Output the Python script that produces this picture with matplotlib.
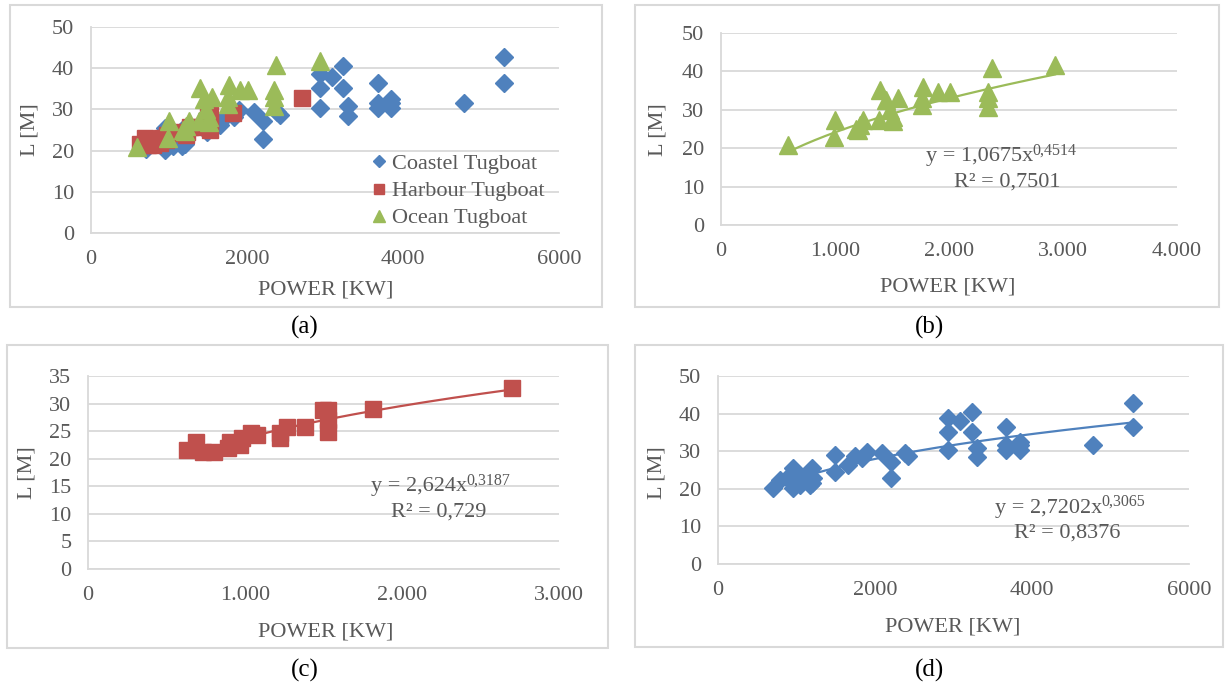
import numpy as np
import matplotlib.pyplot as plt
from matplotlib.patches import Rectangle

plt.rcParams['font.family'] = ['Liberation Serif', 'DejaVu Serif']

# data (power in kW, length in m)
coastal_kw = [700, 790, 875, 955, 955, 960, 1045, 1085, 1170, 1195,
              1200, 1215, 1490, 1490, 1660, 1745, 1830, 1895, 2085, 2210,
              2210, 2380, 2425, 2935, 2935, 2935, 3085, 3230, 3230, 3295,
              3295, 3675, 3675, 3675, 3845, 3845, 3845, 4780, 5290, 5290]
coastal_l = [20.3, 22.4, 22.8, 25.5, 20.2, 24.1, 21.0, 23.1, 21.0, 25.5,
             21.5, 22.8, 29.0, 24.6, 26.3, 28.6, 28.1, 29.9, 29.4, 27.2,
             22.8, 29.4, 28.6, 38.7, 35.2, 30.3, 37.9, 40.5, 35.2, 30.8,
             28.5, 36.5, 31.6, 30.3, 32.5, 31.6, 30.3, 31.6, 42.7, 36.5]

harbour_kw = [630, 690, 735, 800, 890, 905, 965, 980, 1040, 1075,
              1220, 1225, 1265, 1380, 1495, 1530, 1530, 1530, 1815, 2700]
harbour_l = [21.6, 23.1, 21.3, 21.3, 21.9, 23.1, 22.5, 23.7, 24.6, 24.3,
             23.7, 24.6, 25.8, 25.8, 28.8, 28.8, 27.0, 24.9, 29.1, 32.8]

ocean_kw = [590, 990, 1000, 1180, 1205, 1220, 1250, 1390, 1395, 1450,
            1480, 1510, 1510, 1555, 1760, 1760, 1775, 1905, 2010, 2345,
            2345, 2345, 2375, 2930]
ocean_l = [20.8, 23.0, 27.3, 25.0, 24.7, 26.0, 27.3, 27.3, 35.2, 32.5,
           30.0, 28.2, 27.0, 33.0, 33.0, 31.2, 36.0, 34.7, 34.7, 34.7,
           33.0, 30.8, 40.8, 41.7]

# power-law trendlines y = a * x^b as printed on the chart
fit_ocean = (1.0675, 0.4514)
fit_harbour = (2.624, 0.3187)
fit_coastal = (2.7202, 0.3065)

ticks_6000 = ['0', '2000', '4000', '6000']
ticks_4000 = ['0', '1.000', '2.000', '3.000', '4.000']
ticks_3000 = ['0', '1.000', '2.000', '3.000']

BLUE = '#4f81bd'
RED = '#c0504d'
GREEN = '#9bbb59'
GRID = '#d9d9d9'
TXT = '#595959'
FS = 16

W, H = 1225, 687
fig = plt.figure(figsize=(W / 100, H / 100), dpi=100)


def fx(px):
    return px / W


def fy(py):
    return 1 - py / H


def box(x0, y0, x1, y1):
    fig.add_artist(Rectangle((fx(x0), fy(y1)), (x1 - x0) / W, (y1 - y0) / H,
                             transform=fig.transFigure, fill=False,
                             ec=GRID, lw=1.5))


def make_ax(l, r, t, b, xmax, xlabels, ymax, ystep):
    ax = fig.add_axes([fx(l), fy(b), (r - l) / W, (b - t) / H])
    ax.set_xlim(0, xmax)
    ax.set_ylim(0, ymax)
    ax.set_xticks(np.linspace(0, xmax, len(xlabels)))
    ax.set_xticklabels(xlabels)
    ax.set_yticks(np.arange(0, ymax + 1, ystep))
    ax.grid(axis='y', color=GRID, lw=1.3)
    ax.set_axisbelow(True)
    for s in ['top', 'right']:
        ax.spines[s].set_visible(False)
    for s in ['left', 'bottom']:
        ax.spines[s].set_color(GRID)
        ax.spines[s].set_linewidth(1.3)
    ax.tick_params(length=0, labelsize=FS, labelcolor=TXT, pad=12)
    return ax


def labels(ax, xl_px, yl_px, l, r, t, b):
    ax.set_xlabel('POWER [KW]', fontsize=FS, color=TXT, va='center')
    ax.xaxis.set_label_coords((xl_px[0] - l) / (r - l), (b - xl_px[1]) / (b - t))
    ax.set_ylabel('L [M]', fontsize=FS, color=TXT, va='center')
    ax.yaxis.set_label_coords((yl_px[0] - l) / (r - l), (b - yl_px[1]) / (b - t))


def trend(ax, xs, fit, color):
    xx = np.linspace(min(xs), max(xs), 200)
    ax.plot(xx, fit[0] * xx ** fit[1], color=color, lw=1.6, zorder=2)


def equation(right_px, y_px, main, sup, r2, r2_center):
    fig.text(fx(right_px), fy(y_px), main, ha='right', va='center',
             fontsize=FS, color=TXT)
    fig.text(fx(right_px - 1), fy(y_px - 6), sup, ha='left', va='center',
             fontsize=11.5, color=TXT)
    fig.text(fx(r2_center), fy(y_px + 25), r2, ha='center', va='center',
             fontsize=FS, color=TXT)


# frames
box(10, 5, 602, 307)
box(635, 5, 1219, 307)
box(7, 345, 608, 648)
box(635, 345, 1223, 647)

# (a) all tugboats
ax = make_ax(91, 559, 27, 233, 6000, ticks_6000, 50, 10)
ax.plot(coastal_kw, coastal_l, 'D', color=BLUE, ms=9.5, ls='none',
        label='Coastel Tugboat', zorder=3)
ax.plot(harbour_kw, harbour_l, 's', color=RED, ms=11.5, ls='none',
        label='Harbour Tugboat', zorder=4)
ax.plot(ocean_kw, ocean_l, '^', color=GREEN, ms=12.5, ls='none',
        label='Ocean Tugboat', zorder=5)
labels(ax, (326, 290), (30, 130), 91, 559, 27, 233)
leg = ax.legend(loc='center left', bbox_to_anchor=(fx(361), fy(191)),
                bbox_transform=fig.transFigure, frameon=False, fontsize=FS,
                markerscale=0.65, handlelength=0.6, handletextpad=0.3,
                labelspacing=0.3, borderpad=0)
for t in leg.get_texts():
    t.set_color(TXT)

# (b) ocean
ax = make_ax(721, 1177, 33, 225, 4000, ticks_4000, 50, 10)
trend(ax, ocean_kw, fit_ocean, GREEN)
ax.plot(ocean_kw, ocean_l, '^', color=GREEN, ms=12.5, ls='none', zorder=3)
labels(ax, (948, 287), (658, 130), 721, 1177, 33, 225)
equation(1033, 157, 'y = 1,0675x', '0,4514', 'R² = 0,7501', 1007)

# (c) harbour
ax = make_ax(88, 559, 376, 569, 3000, ticks_3000, 35, 5)
trend(ax, harbour_kw, fit_harbour, RED)
ax.plot(harbour_kw, harbour_l, 's', color=RED, ms=12, ls='none', zorder=3)
labels(ax, (326, 632), (27, 473), 88, 559, 376, 569)
equation(467, 487, 'y = 2,624x', '0,3187', 'R² = 0,729', 439)

# (d) coastal
ax = make_ax(718, 1189, 376, 564, 6000, ticks_6000, 50, 10)
trend(ax, coastal_kw, fit_coastal, BLUE)
ax.plot(coastal_kw, coastal_l, 'D', color=BLUE, ms=9.5, ls='none', zorder=3)
labels(ax, (953, 627), (657, 473), 718, 1189, 376, 564)
equation(1102, 508, 'y = 2,7202x', '0,3065', 'R² = 0,8376', 1067)

# captions
for txt, x, y in [('(a)', 305, 327), ('(b)', 930, 327),
                  ('(c)', 305, 670), ('(d)', 930, 670)]:
    fig.text(fx(x), fy(y), txt, ha='center', va='center', fontsize=18,
             color='black')

fig.savefig('out.png', dpi=100)
